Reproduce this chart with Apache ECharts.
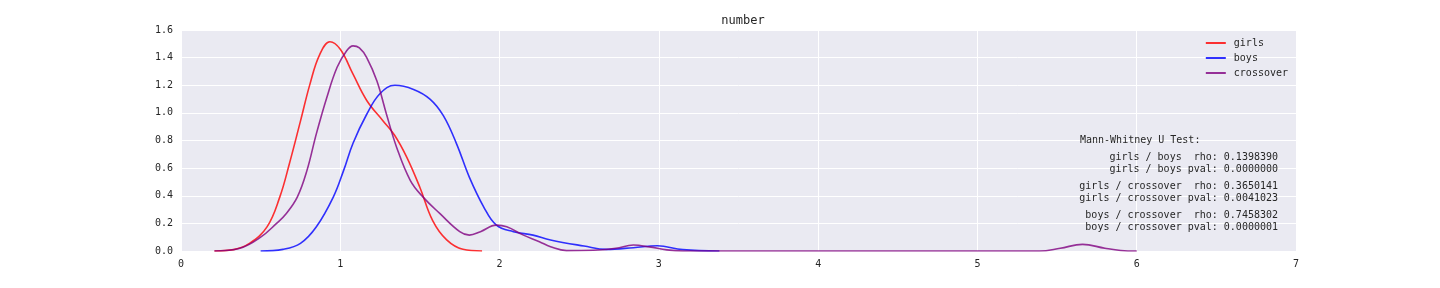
<!DOCTYPE html>
<html>
<head>
<meta charset="utf-8">
<script src="https://cdn.jsdelivr.net/npm/echarts@6/dist/echarts.min.js"></script>
<style>html,body{margin:0;padding:0;background:#fff;}#c{width:1440px;height:288px;}</style>
</head>
<body>
<div id="c"></div>
<script>
const seriesNames = ['girls', 'boys', 'crossover'];
const girls = [
  [0.21,0],[0.33,0.01],[0.43,0.055],[0.54,0.175],[0.62,0.39],[0.68,0.63],[0.75,0.94],
  [0.81,1.21],[0.87,1.42],[0.935,1.515],[1.0,1.46],[1.08,1.28],[1.166,1.09],[1.27,0.94],
  [1.34,0.84],[1.417,0.68],[1.5,0.46],[1.58,0.22],[1.668,0.08],[1.77,0.012],[1.89,0]
];
const boys = [
  [0.5,0],[0.64,0.012],[0.75,0.055],[0.85,0.175],[0.956,0.39],[1.02,0.58],[1.08,0.78],
  [1.166,0.99],[1.25,1.14],[1.343,1.20],[1.46,1.17],[1.563,1.10],[1.647,0.98],[1.73,0.776],
  [1.81,0.535],[1.90,0.32],[1.98,0.187],[2.087,0.14],[2.21,0.115],[2.32,0.08],[2.53,0.036],
  [2.67,0.012],[2.84,0.024],[2.99,0.038],[3.15,0.01],[3.38,0]
];
const crossover = [
  [0.21,0],[0.37,0.02],[0.50,0.10],[0.60,0.20],[0.66,0.27],[0.73,0.39],[0.79,0.58],
  [0.85,0.85],[0.915,1.11],[0.98,1.33],[1.04,1.45],[1.08,1.485],[1.12,1.47],[1.166,1.40],
  [1.23,1.23],[1.29,0.99],[1.354,0.75],[1.44,0.51],[1.52,0.39],[1.626,0.27],[1.75,0.14],
  [1.81,0.115],[1.88,0.14],[1.98,0.187],[2.045,0.175],[2.15,0.115],[2.25,0.067],[2.32,0.031],
  [2.42,0.003],[2.59,0.005],[2.73,0.02],[2.84,0.043],[2.94,0.03],[3.05,0.008],[3.15,0],
  [5.39,0],[5.52,0.02],[5.66,0.048],[5.8,0.02],[5.9,0.004],[6.0,0]
];
const xTicks = [0,1,2,3,4,5,6,7];
const yTicks = [0,0.2,0.4,0.6,0.8,1.0,1.2,1.4,1.6];
const statsTitle = 'Mann-Whitney U Test:';
const statsLines = [
  ['girls / boys  rho: 0.1398390', 'girls / boys pval: 0.0000000'],
  ['girls / crossover  rho: 0.3650141', 'girls / crossover pval: 0.0041023'],
  ['boys / crossover  rho: 0.7458302', 'boys / crossover pval: 0.0000001']
];
const colors = ['rgba(255,0,0,0.8)', 'rgba(0,0,255,0.8)', 'rgba(128,0,128,0.8)'];
const dataSets = [girls, boys, crossover];

const mono = 'DejaVu Sans Mono';
const chart = echarts.init(document.getElementById('c'));
const gfx = [];
gfx.push({type:'text', z:100, zlevel:0, x:1080, y:135, style:{text:statsTitle, font:'10px "DejaVu Sans Mono"', fill:'#262626', verticalAlign:'top'}});
const blockTops = [152, 181, 210];
statsLines.forEach((pair, i) => {
  pair.forEach((t, j) => {
    gfx.push({type:'text', z:100, x:1278, y:blockTops[i] + j*12, style:{text:t, font:'10px "DejaVu Sans Mono"', fill:'#262626', align:'right', verticalAlign:'top'}});
  });
});
chart.setOption({
  animation:false,
  title:{text:'number', left:738, textAlign:'center', top:10, textStyle:{fontFamily:mono, fontSize:12, fontWeight:'normal', color:'#262626'}},
  grid:{left:181, right:144, top:30, bottom:37, show:true, backgroundColor:'#EAEAF2', borderWidth:0},
  legend:{data:seriesNames, orient:'vertical', right:147, top:33, itemWidth:20, itemHeight:2, itemGap:5,
    textStyle:{fontFamily:mono, fontSize:10, color:'#262626', padding:[0,0,0,3]}, icon:'rect'},
  xAxis:{type:'value', min:xTicks[0], max:xTicks[xTicks.length-1], interval:1,
    axisLine:{show:false}, axisTick:{show:false},
    axisLabel:{fontFamily:mono, fontSize:10, color:'#262626', margin:8},
    splitLine:{lineStyle:{color:'#ffffff', width:1}}},
  yAxis:{type:'value', min:yTicks[0], max:yTicks[yTicks.length-1], interval:0.2,
    axisLine:{show:false}, axisTick:{show:false},
    axisLabel:{fontFamily:mono, fontSize:10, color:'#262626', margin:8, formatter:v=>v.toFixed(1)},
    splitLine:{lineStyle:{color:'#ffffff', width:1}}},
  series: seriesNames.map((n,i)=>({
    name:n, type:'line', data:dataSets[i], showSymbol:false, symbol:'none', smooth:0.4,
    lineStyle:{color:colors[i], width:1.6}, itemStyle:{color:colors[i]}, z:2+i
  })),
  graphic: gfx
});
</script>
</body>
</html>
